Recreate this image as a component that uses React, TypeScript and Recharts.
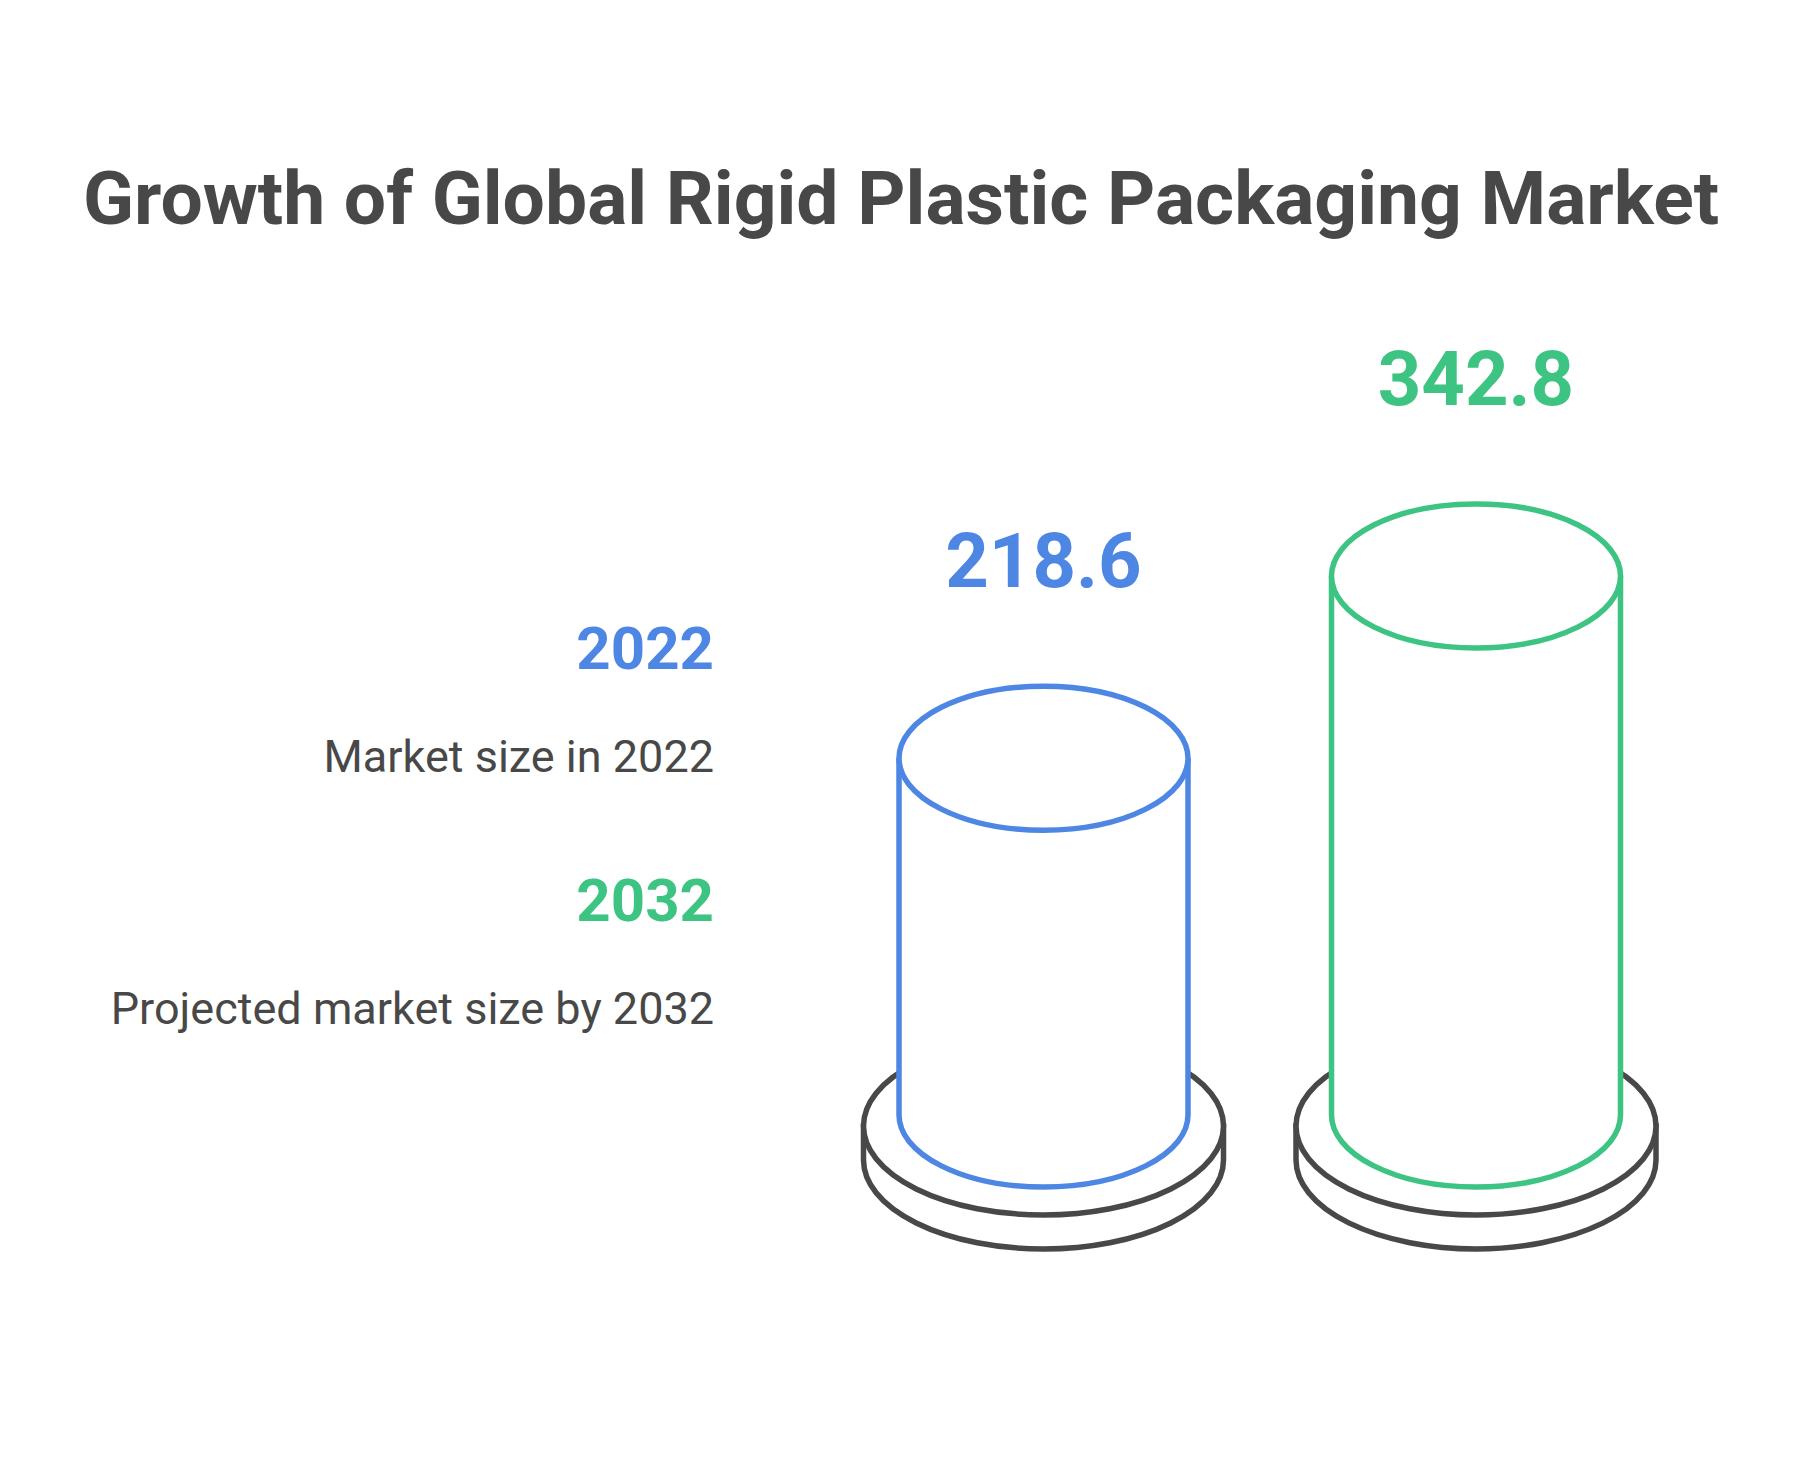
import React from "react";
import { BarChart, Bar, XAxis, YAxis, LabelList } from "recharts";

const years = ["2022", "2032"];
const marketSize = [218.6, 342.8];
const descriptions = ["Market size in 2022", "Projected market size by 2032"];
const colors = ["#4E86E4", "#3DC483"];
const title = "Growth of Global Rigid Plastic Packaging Market";

const data = years.map((year, i) => ({
  year,
  value: marketSize[i],
  color: colors[i],
}));

const INK = "#484848";
const FONT = "Roboto, 'Noto Sans', sans-serif";
const RY = 72; // ellipse radius of the cylinder caps
const SINK = 36; // cylinder bottom sits a bit below the value-0 line

// cylinder on a round plinth
const Cylinder: React.FC<any> = (p) => {
  const { x = 0, y = 0, width = 0, height = 0, payload } = p;
  const color = payload?.color ?? colors[0];
  const cx = x + width / 2;
  const rx = width / 2;
  const yb = y + height + SINK;

  const drx = 180;
  const dTop = yb + 11;
  const dBot = yb + 45;
  const dry = 89;

  return (
    <g>
      <path
        d={`M ${cx - drx} ${dTop} L ${cx - drx} ${dBot} A ${drx} ${dry} 0 0 0 ${cx + drx} ${dBot} L ${cx + drx} ${dTop} Z`}
        fill="#fff"
        stroke={INK}
        strokeWidth={5.5}
      />
      <ellipse cx={cx} cy={dTop} rx={drx} ry={dry} fill="#fff" stroke={INK} strokeWidth={5.5} />
      <path
        d={`M ${cx - rx} ${y} L ${cx - rx} ${yb} A ${rx} ${RY} 0 0 0 ${cx + rx} ${yb} L ${cx + rx} ${y}`}
        fill="#fff"
        stroke={color}
        strokeWidth={5.5}
      />
      <ellipse cx={cx} cy={y} rx={rx} ry={RY} fill="#fff" stroke={color} strokeWidth={5.5} />
    </g>
  );
};

const ValueLabel: React.FC<any> = (p) => {
  const { x = 0, y = 0, width = 0, value, index = 0 } = p;
  return (
    <text
      x={x + width / 2}
      y={y - RY - 99}
      textAnchor="middle"
      fontFamily={FONT}
      fontWeight={700}
      fontSize={76}
      fill={colors[index]}
    >
      {value}
    </text>
  );
};

export default function App() {
  return (
    <div
      style={{
        position: "absolute",
        left: 0,
        top: 0,
        width: 1800,
        height: 1477,
        background: "#fff",
      }}
    >
      <BarChart
        width={1800}
        height={1477}
        data={data}
        margin={{ top: 492, right: 108, bottom: 398, left: 827 }}
      >
        <XAxis dataKey="year" hide />
        <YAxis hide domain={[0, 400]} />
        <Bar
          dataKey="value"
          barSize={289}
          shape={<Cylinder />}
          isAnimationActive={false}
        >
          <LabelList dataKey="value" content={<ValueLabel />} />
        </Bar>
      </BarChart>

      <svg
        width={1800}
        height={1477}
        style={{ position: "absolute", left: 0, top: 0, pointerEvents: "none" }}
      >
        <text
          x={901}
          y={224}
          textAnchor="middle"
          fontFamily={FONT}
          fontWeight={700}
          fontSize={75}
          fill={INK}
        >
          {title}
        </text>
        {years.map((yr, i) => (
          <g key={yr}>
            <text
              x={714}
              y={669 + i * 252}
              textAnchor="end"
              fontFamily={FONT}
              fontWeight={700}
              fontSize={60}
              fill={colors[i]}
            >
              {yr}
            </text>
            <text
              x={714}
              y={772 + i * 252}
              textAnchor="end"
              fontFamily={FONT}
              fontSize={45}
              fill={INK}
            >
              {descriptions[i]}
            </text>
          </g>
        ))}
      </svg>
    </div>
  );
}
